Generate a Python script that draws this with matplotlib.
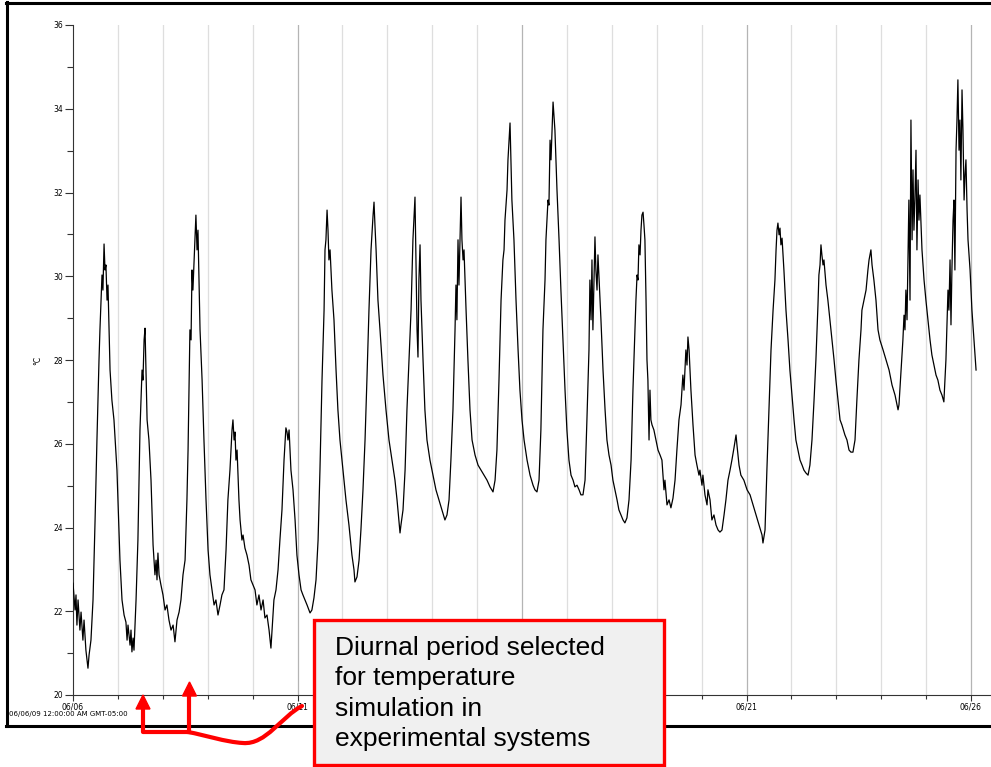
import matplotlib
matplotlib.use('Agg')
import matplotlib.pyplot as plt
import numpy as np
from matplotlib.lines import Line2D
from matplotlib.patches import Rectangle, Polygon, PathPatch
from matplotlib.path import Path

# logger readings, hours since 06/06/09 00:00 and temperature in °C
hours = [
    0.0, 1.1, 1.6, 2.1, 2.7, 3.7, 4.3, 5.3, 5.9, 6.9, 8.0, 8.6, 9.6, 10.7, 11.8, 12.8, 13.9, 14.4,
    15.0, 15.5, 16.0, 16.6, 17.1, 17.6, 18.2, 18.7, 19.8, 20.8, 21.9, 23.5, 25.1, 26.2, 27.3, 28.3,
    28.9, 29.4, 30.5, 31.0, 31.5, 32.1, 32.6, 33.7, 34.7, 35.8, 36.9, 37.4, 38.0, 38.5, 39.0, 39.6,
    40.6, 41.7, 42.8, 43.8, 44.4, 44.9, 45.4, 46.0, 47.0, 48.1, 49.2, 50.2, 51.3, 52.4, 53.5, 54.5,
    55.6, 56.7, 57.7, 58.8, 59.9, 60.9, 61.5, 62.5, 63.1, 63.6, 64.1, 65.2, 65.7, 66.3, 66.8, 67.9,
    69.0, 70.0, 71.1, 72.2, 73.2, 74.3, 75.4, 76.4, 77.5, 78.6, 79.6, 80.7, 81.8, 82.8, 83.9, 85.0,
    85.5, 86.1, 86.6, 87.1, 87.7, 88.7, 89.3, 90.3, 90.9, 91.9, 93.0, 94.1, 95.1, 96.2, 97.3, 98.3,
    99.4, 100.5, 101.6, 102.6, 103.7, 104.8, 105.8, 106.4, 107.4, 108.5, 109.6, 110.6, 111.7, 112.8,
    113.8, 114.4, 114.9, 115.5, 116.5, 117.6, 118.7, 119.7, 120.8, 121.9, 122.9, 124.0, 125.1, 126.7,
    127.7, 128.8, 129.9, 131.0, 132.0, 133.1, 134.2, 134.7, 135.2, 135.8, 136.3, 136.8, 137.4, 138.4,
    139.5, 140.6, 141.6, 142.7, 144.3, 145.9, 147.5, 149.1, 150.2, 150.7, 151.8, 152.9, 153.9, 155.0,
    156.1, 157.1, 158.2, 159.3, 160.4, 160.9, 161.4, 162.0, 163.0, 164.1, 165.7, 167.3, 168.9, 170.5,
    172.1, 173.2, 174.2, 174.8, 175.3, 176.4, 177.5, 178.5, 179.6, 180.7, 181.7, 182.8, 183.3, 183.9,
    184.4, 184.9, 185.5, 186.0, 187.1, 188.1, 189.2, 190.8, 192.4, 194.0, 195.6, 197.2, 198.8, 199.9,
    201.0, 202.0, 203.1, 204.2, 204.7, 205.2, 205.8, 206.3, 207.4, 207.9, 208.5, 209.0, 210.1, 211.1,
    212.2, 213.3, 214.9, 216.5, 218.1, 219.7, 221.3, 222.9, 224.5, 225.6, 226.6, 227.7, 228.8, 229.8,
    230.4, 230.9, 232.0, 232.5, 233.6, 234.1, 234.6, 235.7, 236.8, 237.9, 238.9, 240.0, 241.1, 242.7,
    244.3, 245.9, 246.9, 248.0, 249.1, 250.1, 251.2, 252.3, 252.8, 253.9, 254.4, 255.0, 255.5, 256.6,
    257.6, 258.7, 259.8, 260.8, 261.9, 263.0, 264.0, 265.1, 266.2, 267.3, 268.3, 269.4, 270.5, 271.5,
    272.6, 273.7, 274.7, 275.8, 276.3, 276.9, 277.4, 277.9, 278.5, 279.0, 279.5, 280.1, 280.6, 281.1,
    282.2, 283.3, 284.4, 285.4, 286.5, 287.6, 288.6, 289.7, 290.8, 291.8, 292.9, 294.0, 295.0, 296.1,
    297.2, 298.3, 299.3, 300.4, 300.9, 301.5, 302.0, 302.5, 303.1, 303.6, 304.1, 304.7, 305.2, 305.7,
    306.3, 306.8, 307.3, 307.9, 308.4, 308.9, 309.5, 310.5, 311.6, 312.7, 313.8, 314.8, 315.9, 316.4,
    317.5, 318.6, 319.6, 320.7, 321.8, 322.8, 323.9, 325.0, 326.0, 326.6, 327.6, 328.2, 328.7, 329.3,
    330.3, 331.4, 332.5, 333.5, 334.6, 335.1, 336.2, 336.7, 337.8, 338.9, 339.4, 340.5, 341.5, 342.6,
    343.7, 344.8, 345.8, 346.9, 348.0, 349.0, 350.1, 351.2, 352.2, 353.3, 354.4, 354.9, 356.0, 357.0,
    358.6, 360.3, 361.9, 363.5, 365.1, 366.7, 368.3, 368.8, 369.9, 370.9, 372.0, 373.1, 374.2, 375.2,
    375.8, 376.3, 376.8, 377.4, 377.9, 378.4, 379.0, 380.0, 381.1, 382.2, 383.2, 384.3, 385.4, 386.4,
    387.5, 388.6, 389.7, 390.7, 391.8, 392.9, 393.9, 395.0, 396.1, 397.1, 398.2, 398.7, 399.3, 399.8,
    400.3, 400.9, 401.4, 402.5, 403.5, 404.6, 405.7, 406.8, 407.8, 408.9, 410.0, 411.0, 412.6, 413.7,
    414.8, 415.8, 416.9, 418.0, 419.0, 420.1, 421.2, 421.7, 422.8, 423.9, 424.9, 425.5, 426.5, 427.1,
    428.1, 429.2, 430.3, 431.3, 433.0, 434.6, 436.2, 437.8, 439.4, 441.0, 441.5, 442.6, 443.6, 444.2,
    444.7, 445.2, 445.8, 446.3, 446.8, 447.4, 447.9, 448.5, 449.0, 449.5, 450.0, 450.6, 451.1, 451.7,
    452.2, 452.7, 453.8, 454.9, 455.9, 457.0, 458.1, 459.1, 460.2, 461.3, 462.3, 463.4, 464.5, 465.5,
    466.6, 467.2, 467.7, 468.2, 468.8, 469.3, 469.8, 470.4, 470.9, 471.4, 472.0, 472.5, 473.0, 473.6,
    474.1, 474.6, 475.2, 475.7, 476.3, 476.8, 477.3, 477.9, 478.4, 479.5, 480.5, 481.6, 482.7,
]
temps = [
    22.67, 22.03, 22.39, 21.67, 22.27, 21.55, 21.98, 21.31, 21.79, 21.07, 20.64, 20.96, 21.31, 22.27,
    24.18, 26.09, 28.00, 28.72, 29.43, 30.03, 29.67, 30.77, 30.15, 30.27, 29.43, 29.79, 27.76, 27.04,
    26.57, 25.37, 23.22, 22.27, 21.91, 21.74, 21.31, 21.67, 21.19, 21.55, 21.03, 21.36, 21.07, 22.27,
    23.70, 26.33, 27.76, 27.52, 28.48, 28.76, 27.76, 26.57, 26.09, 25.13, 23.58, 22.87, 23.22, 22.75,
    23.39, 22.87, 22.63, 22.39, 22.03, 22.15, 21.79, 21.55, 21.67, 21.27, 21.79, 21.98, 22.27, 22.87,
    23.22, 24.66, 25.85, 28.72, 28.48, 30.15, 29.67, 30.87, 31.46, 30.63, 31.10, 28.72, 27.52, 26.09,
    24.66, 23.46, 22.87, 22.51, 22.15, 22.27, 21.91, 22.15, 22.39, 22.51, 23.46, 24.66, 25.37, 26.33,
    26.57, 26.09, 26.28, 25.61, 25.85, 24.66, 24.18, 23.70, 23.82, 23.51, 23.34, 23.10, 22.75, 22.63,
    22.51, 22.15, 22.39, 22.03, 22.27, 21.84, 21.91, 21.55, 21.12, 21.55, 22.27, 22.51, 22.99, 23.70,
    24.42, 25.61, 26.38, 26.28, 26.09, 26.33, 25.37, 24.90, 24.18, 23.34, 22.87, 22.51, 22.39, 22.27,
    22.15, 21.96, 22.03, 22.32, 22.75, 23.70, 25.37, 27.52, 29.19, 30.63, 30.87, 31.58, 31.10, 30.39,
    30.63, 29.67, 28.96, 27.76, 26.81, 26.09, 25.37, 24.66, 24.06, 23.34, 22.99, 22.70, 22.82, 23.22,
    23.94, 24.90, 26.09, 27.52, 29.19, 30.63, 31.46, 31.77, 31.22, 30.63, 29.43, 28.72, 27.64, 26.81,
    26.09, 25.61, 25.13, 24.66, 24.18, 23.87, 24.06, 24.42, 25.37, 26.81, 28.00, 29.19, 30.87, 31.89,
    30.39, 28.72, 28.07, 29.91, 30.75, 29.43, 28.00, 26.81, 26.09, 25.61, 25.25, 24.90, 24.66, 24.42,
    24.18, 24.30, 24.66, 25.61, 26.81, 28.72, 29.79, 28.96, 30.87, 29.79, 31.89, 30.87, 30.39, 30.63,
    29.19, 28.00, 26.81, 26.09, 25.73, 25.49, 25.37, 25.25, 25.13, 24.97, 24.85, 25.13, 25.85, 27.52,
    29.43, 30.39, 30.63, 31.34, 32.06, 32.78, 33.66, 32.78, 31.82, 30.87, 29.43, 28.24, 27.28, 26.57,
    26.09, 25.61, 25.25, 25.01, 24.90, 24.85, 25.13, 26.33, 28.72, 29.91, 30.87, 31.82, 31.70, 33.25,
    32.78, 34.16, 33.49, 32.06, 30.87, 29.67, 28.48, 27.28, 26.33, 25.61, 25.25, 25.13, 24.97, 25.01,
    24.90, 24.78, 24.78, 25.13, 26.57, 28.24, 29.91, 28.96, 30.39, 28.72, 29.91, 30.94, 30.15, 29.67,
    30.51, 30.03, 28.96, 27.76, 26.81, 26.09, 25.73, 25.49, 25.13, 24.90, 24.66, 24.42, 24.30, 24.18,
    24.11, 24.23, 24.66, 25.61, 27.28, 28.72, 29.43, 30.03, 29.91, 30.75, 30.51, 31.10, 31.46, 31.53,
    31.22, 30.87, 29.43, 28.00, 27.52, 26.09, 27.28, 26.57, 26.45, 26.33, 26.09, 25.85, 25.73, 25.61,
    24.90, 25.13, 24.54, 24.66, 24.47, 24.70, 25.13, 25.85, 26.57, 26.93, 27.64, 27.28, 28.24, 27.88,
    28.55, 28.24, 27.28, 26.45, 25.73, 25.49, 25.25, 25.37, 25.01, 25.25, 24.78, 24.54, 24.90, 24.66,
    24.18, 24.30, 24.06, 23.94, 23.89, 23.94, 24.30, 24.66, 25.13, 25.37, 25.61, 25.90, 26.21, 25.97,
    25.49, 25.25, 25.13, 24.90, 24.78, 24.54, 24.30, 24.06, 23.82, 23.63, 23.94, 25.37, 26.81, 28.24,
    29.19, 29.91, 30.63, 31.10, 31.27, 30.99, 31.15, 30.75, 30.91, 30.15, 29.19, 28.48, 27.76, 27.16,
    26.57, 26.09, 25.85, 25.61, 25.49, 25.37, 25.30, 25.25, 25.49, 26.09, 27.04, 28.00, 29.31, 30.03,
    30.27, 30.75, 30.51, 30.27, 30.39, 29.79, 29.43, 28.96, 28.48, 28.00, 27.52, 27.04, 26.57, 26.45,
    26.21, 26.09, 25.85, 25.80, 25.80, 26.09, 27.04, 28.00, 28.72, 29.19, 29.43, 29.67, 30.15, 30.39,
    30.63, 30.27, 29.91, 29.43, 28.72, 28.48, 28.24, 28.00, 27.76, 27.40, 27.16, 26.81, 26.93, 27.76,
    28.48, 29.07, 28.72, 29.67, 28.96, 30.39, 31.82, 29.43, 33.73, 30.87, 32.54, 31.10, 31.82, 33.01,
    30.63, 32.30, 31.34, 31.94, 30.63, 29.91, 29.43, 28.96, 28.48, 28.12, 27.88, 27.64, 27.52, 27.28,
    27.16, 27.00, 28.00, 28.96, 29.67, 29.19, 30.39, 28.84, 30.15, 31.34, 31.82, 30.15, 33.01, 33.73,
    34.69, 33.01, 33.73, 32.30, 34.45, 33.49, 31.82, 32.42, 32.78, 31.58, 30.87, 30.15, 29.19, 28.48,
    27.76,
]

day_ticks = [0, 5, 10, 15, 20]
day_labels = ['06/06', '06/11', '06/16', '06/21', '06/26']
y_ticks = [20, 22, 24, 26, 28, 30, 32, 34, 36]
start_label = '06/06/09 12:00:00 AM GMT-05:00'
note_text = 'Diurnal period selected\nfor temperature\nsimulation in\nexperimental systems'

W, H = 991, 767


def fx(px):
    return px / W


def fy(py):
    return 1 - py / H


fig = plt.figure(figsize=(W / 100, H / 100), dpi=100)
ax = fig.add_axes([fx(73), fy(695), fx(991) - fx(73), fy(25) - fy(695)])

days = np.array(hours) / 24.0
ax.plot(days, temps, color='black', lw=0.9, zorder=3)

ax.set_xlim(0, (991 - 73) / 44.9)
ax.set_ylim(20, 36)

# daily grid, darker every 5 days
for d in range(1, 21):
    c = '#b4b4b4' if d % 5 == 0 else '#dedede'
    ax.axvline(d, color=c, lw=0.9, zorder=1)

ax.set_yticks(y_ticks)
ax.set_yticks(np.arange(21, 36, 2), minor=True)
ax.set_xticks(day_ticks)
ax.set_xticklabels(day_labels)
ax.set_xticks(np.arange(1, 21), minor=True)
ax.tick_params(axis='y', which='major', length=6, width=0.8, pad=1, labelsize=5.5, color='#333333')
ax.tick_params(axis='y', which='minor', length=4, width=0.8, color='#333333')
ax.tick_params(axis='x', which='major', length=4, width=0.8, pad=1.5, labelsize=5.5, color='#333333')
ax.tick_params(axis='x', which='minor', length=3, width=0.8, color='#333333')
for s in ['top', 'right']:
    ax.spines[s].set_visible(False)
ax.spines['left'].set_color('#333333')
ax.spines['bottom'].set_color('#333333')
ax.spines['left'].set_linewidth(0.8)
ax.spines['bottom'].set_linewidth(0.8)

# the 06/16 label sits under the note box in the original
ax.get_xticklabels()[2].set_visible(False)

fig.text(fx(38), fy(360), '°C', rotation=90, fontsize=5.5, ha='center', va='center')
fig.text(fx(9), fy(714), start_label, fontsize=5, ha='left', va='center')

# outer frame
lw_frame = 2.2
fig.add_artist(Line2D([fx(7), fx(7)], [fy(2), fy(726)], color='black', lw=lw_frame))
fig.add_artist(Line2D([fx(6), 1], [fy(2.5), fy(2.5)], color='black', lw=lw_frame))
fig.add_artist(Line2D([fx(6), 1], [fy(726), fy(726)], color='black', lw=lw_frame))

# annotation box
red = '#ff0000'
box = Rectangle((fx(314), fy(765)), fx(664) - fx(314), fy(620) - fy(765),
                transform=fig.transFigure, facecolor='#f0f0f0', edgecolor=red,
                lw=2.4, zorder=10)
fig.add_artist(box)
fig.text(fx(335), fy(636), note_text, fontsize=19, family='Liberation Sans',
         ha='left', va='top', linespacing=1.33, zorder=11)

# connector from box to the two selected days
verts = [(fx(302), fy(706)), (fx(282), fy(716)), (fx(266), fy(745)), (fx(243), fy(743)),
         (fx(225), fy(742)), (fx(205), fy(735)), (fx(188), fy(732)),
         (fx(143), fy(732)), (fx(143), fy(708))]
codes = [Path.MOVETO, Path.CURVE4, Path.CURVE4, Path.CURVE4,
         Path.CURVE4, Path.CURVE4, Path.CURVE4, Path.LINETO, Path.LINETO]
fig.add_artist(PathPatch(Path(verts, codes), transform=fig.transFigure, fill=False,
                         edgecolor=red, lw=3, capstyle='round', joinstyle='round', zorder=9))
fig.add_artist(Line2D([fx(189), fx(189)], [fy(732), fy(696)], color=red, lw=3, zorder=9))
for tx, ty in [(143, 695), (189.5, 682)]:
    tri = Polygon([(fx(tx), fy(ty)), (fx(tx - 7), fy(ty + 14)), (fx(tx + 7), fy(ty + 14))],
                  closed=True, transform=fig.transFigure, color=red, zorder=9)
    fig.add_artist(tri)

fig.savefig('out.png', dpi=100)
